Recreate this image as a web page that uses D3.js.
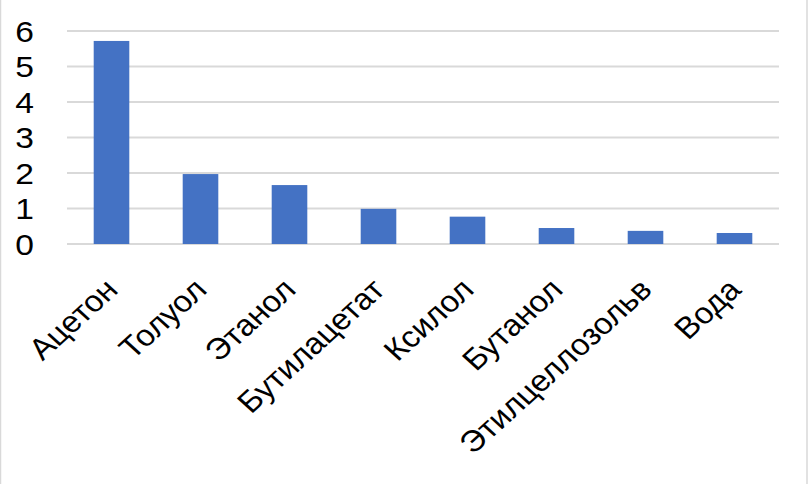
<!DOCTYPE html>
<html>
<head>
<meta charset="utf-8">
<script src="https://cdn.jsdelivr.net/npm/d3@7"></script>
<style>
  html, body { margin: 0; padding: 0; background: #fff; }
  svg { display: block; }
  text { font-family: "Liberation Sans", Arial, sans-serif; fill: #000; }
</style>
</head>
<body>
<svg id="chart" width="808" height="484"></svg>
<script>
const categories = ["Ацетон", "Толуол", "Этанол", "Бутилацетат", "Ксилол", "Бутанол", "Этилцеллозольв", "Вода"];
const values = [5.72, 1.97, 1.66, 0.99, 0.77, 0.45, 0.37, 0.31];
const yTicks = [0, 1, 2, 3, 4, 5, 6];

const W = 808, H = 484;
const plot = { left: 67, right: 779, top: 31, bottom: 244 };

const svg = d3.select("#chart");

// outer border (left/right visible)
svg.append("line").attr("x1", 0.5).attr("x2", 0.5).attr("y1", 0).attr("y2", H)
  .attr("stroke", "#d9d9d9").attr("stroke-width", 1.5);
svg.append("line").attr("x1", W - 1).attr("x2", W - 1).attr("y1", 0).attr("y2", H)
  .attr("stroke", "#d9d9d9").attr("stroke-width", 1.5);

const x = d3.scaleBand().domain(categories).range([plot.left, plot.right]).paddingInner(0.6).paddingOuter(0.3);
const y = d3.scaleLinear().domain([0, 6]).range([plot.bottom, plot.top]);

// gridlines
svg.append("g").selectAll("line").data(yTicks).join("line")
  .attr("x1", plot.left).attr("x2", plot.right)
  .attr("y1", d => y(d)).attr("y2", d => y(d))
  .attr("stroke", "#d9d9d9").attr("stroke-width", 2);

// y axis labels
const yAxis = d3.axisLeft(y).tickValues(yTicks).tickSize(0).tickPadding(0).tickFormat(d3.format("d"));
const gy = svg.append("g").attr("transform", "translate(0,0)").call(yAxis);
gy.select(".domain").remove();
gy.selectAll(".tick").attr("transform", d => `translate(34,${y(d)}) scale(1.12,1)`);
gy.selectAll("text").attr("font-size", 30).attr("font-family", "'Liberation Sans', Arial, sans-serif")
  .attr("fill", "#000").attr("dy", "0.36em").attr("text-anchor", "end").attr("x", 0);

// bars
svg.append("g").selectAll("rect").data(categories).join("rect")
  .attr("x", d => x(d))
  .attr("width", x.bandwidth())
  .attr("y", (d, i) => y(values[i]))
  .attr("height", (d, i) => y(0) - y(values[i]))
  .attr("fill", "#4472c4");

// x labels
svg.append("g").selectAll("text").data(categories).join("text")
  .attr("transform", d => `translate(${x(d) + x.bandwidth() / 2},284) scale(1.1,1) rotate(-45)`)
  .attr("text-anchor", "end")
  .attr("dy", "0.35em")
  .attr("font-size", 30)
  .text(d => d);
</script>
</body>
</html>
